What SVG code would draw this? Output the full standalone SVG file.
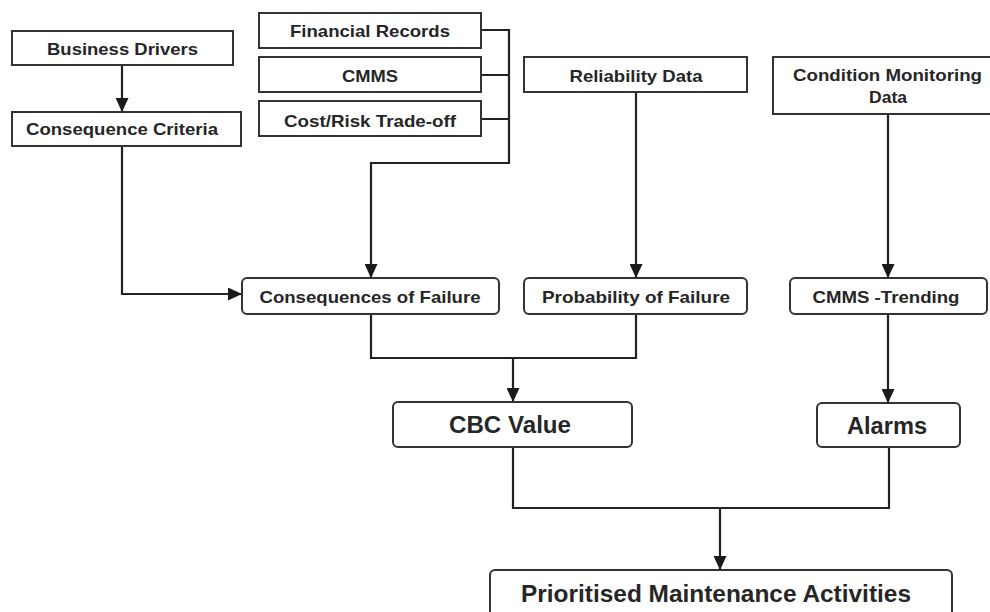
<svg xmlns="http://www.w3.org/2000/svg" width="990" height="612" viewBox="0 0 990 612">
  <style>
    .box { fill: #ffffff; stroke: #333333; stroke-width: 2; }
    .lbl { font-family: "Liberation Sans", Arial, sans-serif; font-weight: bold; fill: #262626; text-anchor: middle; }
    .sm { font-size: 16.5px; }
    .lg { font-size: 23px; }
    .wire { fill: none; stroke: #222222; stroke-width: 2.2; }
  </style>
  <defs>
    <marker id="arrow" markerUnits="userSpaceOnUse" markerWidth="15" markerHeight="13" refX="14" refY="6.5" orient="auto">
      <path d="M0,0 L14,6.5 L0,13 z" fill="#1a1a1a"/>
    </marker>
  </defs>
  <rect width="990" height="612" fill="#ffffff"/>

  <g id="connectors">
    <path class="wire" d="M122 65 V112" marker-end="url(#arrow)"/>
    <path class="wire" d="M122 146 V294 H242" marker-end="url(#arrow)"/>
    <path class="wire" d="M481 30 H509 M481 75 H509 M481 119 H509"/>
    <path class="wire" d="M509 29 V163 H371 V278" marker-end="url(#arrow)"/>
    <path class="wire" d="M636 92 V278" marker-end="url(#arrow)"/>
    <path class="wire" d="M888 115 V278" marker-end="url(#arrow)"/>
    <path class="wire" d="M371 314 V358 H636 V314"/>
    <path class="wire" d="M513 358 V402" marker-end="url(#arrow)"/>
    <path class="wire" d="M888 314 V403" marker-end="url(#arrow)"/>
    <path class="wire" d="M513 447 V508 H889 V447"/>
    <path class="wire" d="M720 508 V570" marker-end="url(#arrow)"/>
  </g>

  <g id="business-drivers">
    <rect class="box" x="12" y="31" width="221" height="34"/>
    <text class="lbl sm" x="122.5" y="55" textLength="151" lengthAdjust="spacingAndGlyphs">Business Drivers</text>
  </g>
  <g id="consequence-criteria">
    <rect class="box" x="12" y="112" width="229" height="34"/>
    <text class="lbl sm" x="122" y="135" textLength="192" lengthAdjust="spacingAndGlyphs">Consequence Criteria</text>
  </g>
  <g id="financial-records">
    <rect class="box" x="259" y="13" width="222" height="35"/>
    <text class="lbl sm" x="370" y="37" textLength="160" lengthAdjust="spacingAndGlyphs">Financial Records</text>
  </g>
  <g id="cmms">
    <rect class="box" x="259" y="57" width="222" height="35"/>
    <text class="lbl sm" x="370" y="82" textLength="56" lengthAdjust="spacingAndGlyphs">CMMS</text>
  </g>
  <g id="cost-risk">
    <rect class="box" x="259" y="101" width="222" height="35"/>
    <text class="lbl sm" x="370" y="127" textLength="172" lengthAdjust="spacingAndGlyphs">Cost/Risk Trade-off</text>
  </g>
  <g id="reliability-data">
    <rect class="box" x="524" y="57" width="223" height="35"/>
    <text class="lbl sm" x="636" y="82" textLength="133" lengthAdjust="spacingAndGlyphs">Reliability Data</text>
  </g>
  <g id="condition-monitoring">
    <rect class="box" x="773" y="57" width="230" height="57"/>
    <text class="lbl sm" x="887.5" y="81" textLength="189" lengthAdjust="spacingAndGlyphs">Condition Monitoring</text>
    <text class="lbl sm" x="888" y="103" textLength="38" lengthAdjust="spacingAndGlyphs">Data</text>
  </g>
  <g id="consequences-of-failure">
    <rect class="box" x="242" y="278" width="257" height="36" rx="5"/>
    <text class="lbl sm" x="370" y="303" textLength="221" lengthAdjust="spacingAndGlyphs">Consequences of Failure</text>
  </g>
  <g id="probability-of-failure">
    <rect class="box" x="524" y="278" width="223" height="36" rx="5"/>
    <text class="lbl sm" x="636" y="303" textLength="188" lengthAdjust="spacingAndGlyphs">Probability of Failure</text>
  </g>
  <g id="cmms-trending">
    <rect class="box" x="790" y="278" width="197" height="36" rx="5"/>
    <text class="lbl sm" x="886" y="303" textLength="147" lengthAdjust="spacingAndGlyphs">CMMS -Trending</text>
  </g>
  <g id="cbc-value">
    <rect class="box" x="393" y="402" width="239" height="45" rx="5"/>
    <text class="lbl lg" x="510" y="433" textLength="122" lengthAdjust="spacingAndGlyphs">CBC Value</text>
  </g>
  <g id="alarms">
    <rect class="box" x="817" y="403" width="143" height="44" rx="5"/>
    <text class="lbl lg" x="887" y="434" textLength="80" lengthAdjust="spacingAndGlyphs">Alarms</text>
  </g>
  <g id="prioritised-activities">
    <rect class="box" x="490" y="570" width="462" height="60" rx="5"/>
    <text class="lbl lg" x="716" y="602" textLength="390" lengthAdjust="spacingAndGlyphs">Prioritised Maintenance Activities</text>
  </g>
</svg>
